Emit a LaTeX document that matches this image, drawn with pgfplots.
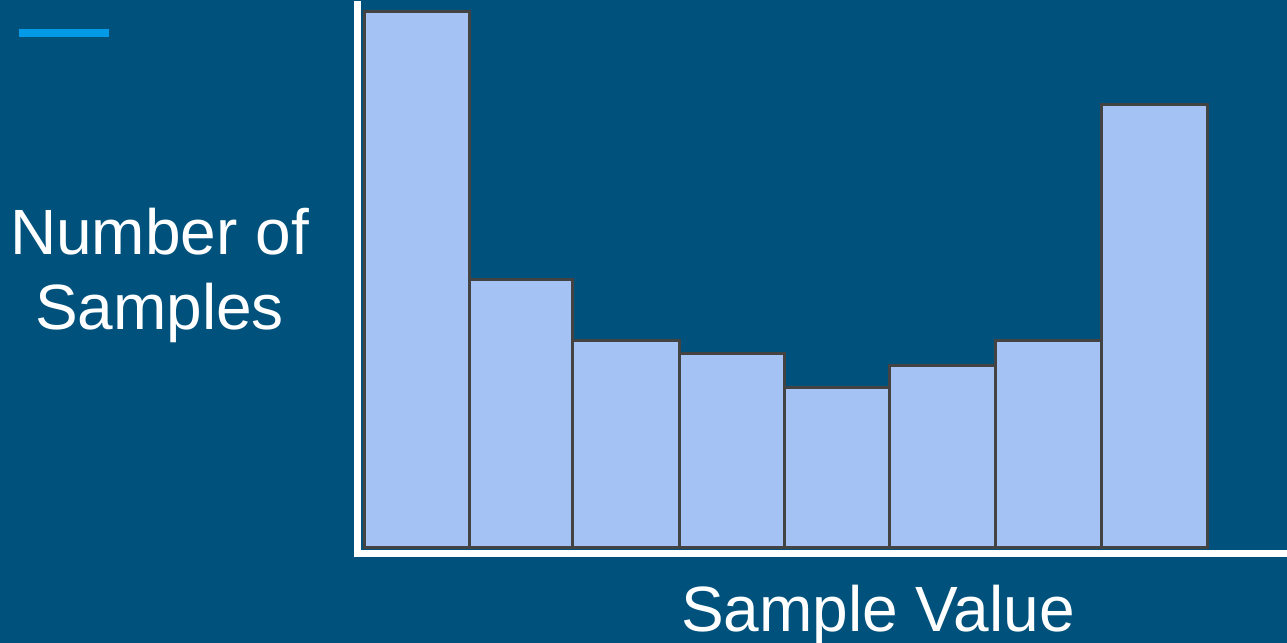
\documentclass[border=0pt]{standalone}
\usepackage{fontspec}
\setmainfont{Liberation Sans}
\usepackage{pgfplots}
\pgfplotsset{compat=1.18}
\definecolor{bgblue}{RGB}{0,82,124}
\definecolor{barfill}{HTML}{A4C2F4}
\definecolor{bargray}{HTML}{434343}
\definecolor{dashblue}{HTML}{039BE5}
\begin{document}
\begin{tikzpicture}
\fill[bgblue] (0,0) rectangle (643.5pt,321.5pt);
\useasboundingbox (0,0) rectangle (643.5pt,321.5pt);
\draw[dashblue, line width=4pt] (9.5pt,305pt) -- (54.25pt,305pt);
\begin{axis}[
  at={(178.5pt,44.75pt)}, anchor=south west,
  scale only axis, width=465pt, height=274.25pt,
  xmin=-0.0759, xmax=8.7497, ymin=-6, ymax=542.5,
  axis x line=bottom, axis y line=left,
  axis line style={white, line width=3.5pt, -, line cap=rect},
  xtick=\empty, ytick=\empty,
  clip=false,
]
\addplot[ybar interval, fill=barfill, draw=bargray, line width=1.5pt]
  coordinates {(0,535.8) (0.991,267.5) (1.973,206.5) (2.980,193.5) (3.983,160) (4.982,181.5) (5.988,206.5) (6.994,443.2) (8,443.2)};
\end{axis}
\fontsize{32pt}{37.5pt}\selectfont
\node[white, anchor=base, inner sep=0pt] at (79.75pt,194pt) {Number of};
\node[white, anchor=base, inner sep=0pt] at (79.75pt,156.5pt) {Samples};
\node[white, anchor=base, inner sep=0pt] at (439pt,5.5pt) {Sample Value};
\end{tikzpicture}
\end{document}
